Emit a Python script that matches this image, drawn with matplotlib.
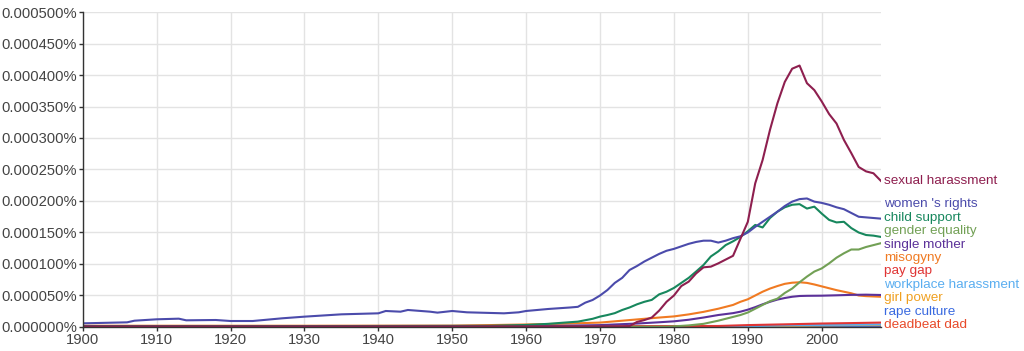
import matplotlib
matplotlib.use("Agg")
import matplotlib.pyplot as plt
from matplotlib.ticker import FuncFormatter, MultipleLocator

plt.rcParams['font.family'] = ['Liberation Sans', 'DejaVu Sans']

# values are in percent (as shown on the y axis)
sh_years = [1900, 1930, 1960, 1973, 1974, 1975, 1976, 1977, 1978, 1979, 1980, 1981, 1982, 1983,
            1984, 1985, 1986, 1987, 1988, 1989, 1990, 1991, 1992, 1993, 1994, 1995, 1996,
            1997, 1998, 1999, 2000, 2001, 2002, 2003, 2004, 2005, 2006, 2007, 2008]
sh_vals = [0.0000010, 0.0000010, 0.0000010, 0.0000010, 0.0000015, 0.0000080, 0.0000110,
           0.0000150, 0.0000260, 0.0000400, 0.0000500, 0.0000650, 0.0000720, 0.0000850,
           0.0000947, 0.0000958, 0.000101, 0.000107, 0.000113, 0.000140, 0.000167, 0.000228,
           0.000265, 0.000313, 0.000355, 0.000389, 0.000410, 0.000415, 0.000387, 0.000376,
           0.000358, 0.000338, 0.000323, 0.000297, 0.000276, 0.000254, 0.000247, 0.000244,
           0.000232]

wr_years = [1900, 1906, 1907, 1910, 1913, 1914, 1918, 1920, 1923, 1927, 1930, 1935, 1940,
            1941, 1943, 1944, 1947, 1948, 1950, 1952, 1957, 1959, 1960, 1963, 1966, 1967,
            1968, 1969, 1970, 1971, 1972, 1973, 1974, 1975, 1976, 1977, 1978, 1979, 1980,
            1981, 1982, 1983, 1984, 1985, 1986, 1987, 1988, 1989, 1990, 1991, 1992, 1993,
            1994, 1995, 1996, 1997, 1998, 1999, 2000, 2001, 2002, 2003, 2004, 2005, 2006,
            2007, 2008]
wr_vals = [0.0000058, 0.0000074, 0.0000100, 0.0000122, 0.0000132, 0.0000106, 0.0000111,
           0.0000095, 0.0000095, 0.0000138, 0.0000164, 0.0000201, 0.0000217, 0.0000254,
           0.0000243, 0.0000270, 0.0000243, 0.0000228, 0.0000254, 0.0000233, 0.0000217,
           0.0000233, 0.0000254, 0.0000286, 0.0000310, 0.0000320, 0.0000386, 0.0000429,
           0.0000500, 0.0000587, 0.0000700, 0.0000780, 0.0000905, 0.0000968, 0.000104,
           0.000110, 0.000116, 0.000121, 0.000124, 0.000128, 0.000132, 0.000135, 0.000137,
           0.000137, 0.000134, 0.000137, 0.000141, 0.000144, 0.000150, 0.000159, 0.000167,
           0.000175, 0.000183, 0.000192, 0.000199, 0.000203, 0.000204, 0.000199, 0.000197,
           0.000194, 0.000190, 0.000187, 0.000181, 0.000175, 0.000174, 0.000173, 0.000172]

cs_years = [1900, 1930, 1955, 1960, 1963, 1965, 1967, 1969, 1970, 1971, 1972, 1973, 1974,
            1975, 1976, 1977, 1978, 1979, 1980, 1981, 1982, 1983, 1984, 1985, 1986, 1987,
            1988, 1989, 1990, 1991, 1992, 1993, 1994, 1995, 1996, 1997, 1998, 1999, 2000,
            2001, 2002, 2003, 2004, 2005, 2006, 2007, 2008]
cs_vals = [0.0000012, 0.0000014, 0.0000018, 0.0000032, 0.0000050, 0.0000068, 0.0000085,
           0.0000130, 0.0000165, 0.0000190, 0.0000220, 0.0000270, 0.0000310, 0.0000360,
           0.0000400, 0.0000430, 0.0000518, 0.0000560, 0.0000620, 0.0000700, 0.0000780,
           0.0000880, 0.0000984, 0.000112, 0.000120, 0.000130, 0.000136, 0.000143, 0.000152,
           0.000162, 0.000158, 0.000173, 0.000183, 0.000190, 0.000194, 0.000195, 0.000188,
           0.000191, 0.000180, 0.000170, 0.000166, 0.000167, 0.000157, 0.000150, 0.000146,
           0.000145, 0.000143]

ge_years = [1900, 1950, 1979, 1980, 1982, 1984, 1986, 1988, 1989, 1990, 1991, 1992, 1993,
            1994, 1995, 1996, 1997, 1998, 1999, 2000, 2001, 2002, 2003, 2004, 2005, 2006,
            2007, 2008]
ge_vals = [0.0000003, 0.0000003, 0.0000004, 0.0000010, 0.0000025, 0.0000050, 0.0000100,
           0.0000160, 0.0000190, 0.0000230, 0.0000290, 0.0000350, 0.0000410, 0.0000450,
           0.0000540, 0.0000610, 0.0000710, 0.0000800, 0.0000880, 0.0000930, 0.000101,
           0.000110, 0.000117, 0.000123, 0.000123, 0.000127, 0.000130, 0.000133]

sm_years = [1900, 1930, 1960, 1965, 1970, 1975, 1978, 1980, 1982, 1984, 1986, 1988, 1989,
            1990, 1991, 1992, 1993, 1994, 1995, 1996, 1997, 1998, 2000, 2002, 2004, 2006,
            2008]
sm_vals = [0.0000015, 0.0000015, 0.0000016, 0.0000020, 0.0000030, 0.0000055, 0.0000075,
           0.0000090, 0.0000115, 0.0000150, 0.0000190, 0.0000220, 0.0000243, 0.0000275,
           0.0000315, 0.0000360, 0.0000400, 0.0000435, 0.0000460, 0.0000480, 0.0000492,
           0.0000495, 0.0000497, 0.0000503, 0.0000510, 0.0000513, 0.0000508]

mi_years = [1900, 1930, 1950, 1955, 1960, 1965, 1970, 1975, 1978, 1980, 1982, 1984, 1986,
            1988, 1989, 1990, 1991, 1992, 1993, 1994, 1995, 1996, 1997, 1998, 1999, 2000,
            2001, 2002, 2003, 2004, 2005, 2006, 2008]
mi_vals = [0.0000020, 0.0000020, 0.0000022, 0.0000030, 0.0000040, 0.0000052, 0.0000070,
           0.0000120, 0.0000150, 0.0000168, 0.0000200, 0.0000240, 0.0000290, 0.0000350,
           0.0000400, 0.0000440, 0.0000500, 0.0000560, 0.0000610, 0.0000650, 0.0000685,
           0.0000703, 0.0000710, 0.0000700, 0.0000675, 0.0000645, 0.0000615, 0.0000585,
           0.0000560, 0.0000535, 0.0000500, 0.0000490, 0.0000480]

pg_years = [1900, 1960, 1980, 1986, 1990, 1995, 2000, 2004, 2008]
pg_vals = [0.0000008, 0.0000010, 0.0000014, 0.0000016, 0.0000030, 0.0000042, 0.0000055,
           0.0000062, 0.0000070]

wh_years = [1900, 1980, 1985, 1990, 1995, 2000, 2008]
wh_vals = [0.0, 0.0, 0.0000003, 0.0000012, 0.0000025, 0.0000033, 0.0000040]

gp_years = [1900, 1960, 1990, 1995, 2000, 2004, 2008]
gp_vals = [0.0000003, 0.0000004, 0.0000008, 0.0000015, 0.0000025, 0.0000030, 0.0000032]

rc_years = [1900, 1985, 1990, 2000, 2008]
rc_vals = [0.0, 0.0, 0.0000003, 0.0000010, 0.0000020]

dd_years = [1900, 1985, 1990, 1995, 2000, 2008]
dd_vals = [0.0, 0.0000002, 0.0000012, 0.0000020, 0.0000018, 0.0000015]

names = ["sexual harassment", "women 's rights", "child support", "gender equality",
         "single mother", "misogyny", "pay gap", "workplace harassment", "girl power",
         "rape culture", "deadbeat dad"]
series = [(sh_years, sh_vals), (wr_years, wr_vals), (cs_years, cs_vals), (ge_years, ge_vals),
          (sm_years, sm_vals), (mi_years, mi_vals), (pg_years, pg_vals), (wh_years, wh_vals),
          (gp_years, gp_vals), (rc_years, rc_vals), (dd_years, dd_vals)]
colors = ["#8e1f4f", "#4b4bab", "#17875d", "#72a055", "#5b3199", "#f07a22", "#e03535",
          "#5aaef0", "#f0a020", "#3a6ae0", "#e84a2a"]

fig = plt.figure(figsize=(10.24, 3.51), dpi=100)
ax = fig.add_axes([0.0808, 0.0684, 0.7794, 0.8974])

# draw bottom entries first so the big ones sit on top
for (yrs, vals), c in reversed(list(zip(series, colors))):
    ax.plot(yrs, vals, color=c, lw=1.5, solid_joinstyle='round')

ax.set_xlim(1900, 2008)
ax.set_ylim(0, 0.0005)
ax.xaxis.set_major_locator(MultipleLocator(10))
ax.yaxis.set_major_locator(MultipleLocator(0.00005))
ax.yaxis.set_major_formatter(FuncFormatter(lambda v, p: f"{v:.6f}%"))
ax.grid(True, color="#e3e3e3", lw=1)
ax.set_axisbelow(True)
for s in ["top", "right"]:
    ax.spines[s].set_visible(False)
for s in ["left", "bottom"]:
    ax.spines[s].set_color("#333333")
    ax.spines[s].set_linewidth(1)
ax.tick_params(axis='both', direction='out', length=3, width=1, color="#333333",
               labelcolor="#444444", labelsize=10.6, pad=1)

# end labels, stacked in list order from the bottom up so they don't overlap
gap = 0.0000214
pos = {}
last = None
for i in reversed(range(len(names))):
    y = max(series[i][1][-1], 0.0000025)
    if last is not None and y < last + gap:
        y = last + gap
    pos[i] = y
    last = y
for i in range(len(names)):
    ax.annotate(names[i], xy=(1, pos[i]), xycoords=('axes fraction', 'data'),
                xytext=(2.5, 0), textcoords='offset points', va='center', ha='left',
                color=colors[i], fontsize=9.7, annotation_clip=False)

fig.savefig("out.png", dpi=100)
